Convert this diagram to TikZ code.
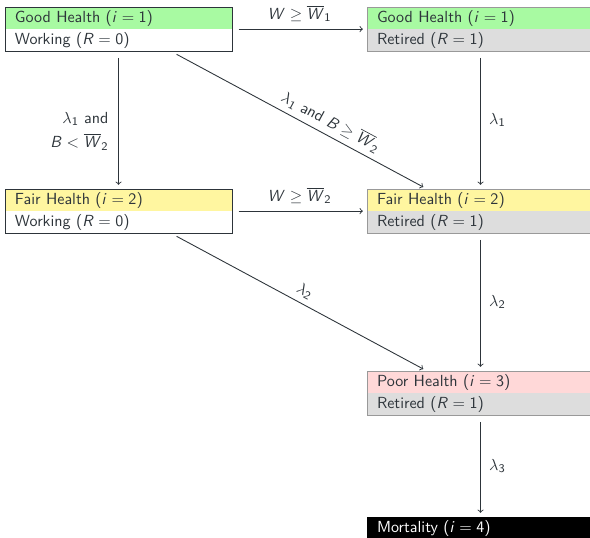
\documentclass[tikz,border=0pt,11pt]{standalone}
\usepackage{amsmath}
\usepackage{amssymb}
\usepackage{tikz}
\usetikzlibrary{positioning,calc}
\renewcommand{\familydefault}{\sfdefault}
% sans math letters and digits, as in slides
\DeclareSymbolFont{sfletters}{OT1}{cmss}{m}{sl}
\SetSymbolFont{operators}{normal}{OT1}{cmss}{m}{n}
\DeclareMathSymbol{i}{\mathalpha}{sfletters}{`i}
\DeclareMathSymbol{R}{\mathalpha}{sfletters}{`R}
\DeclareMathSymbol{W}{\mathalpha}{sfletters}{`W}
\DeclareMathSymbol{B}{\mathalpha}{sfletters}{`B}
\definecolor{txtc}{RGB}{45,52,58}
\definecolor{goodc}{RGB}{168,250,162}
\definecolor{fairc}{RGB}{255,246,160}
\definecolor{poorc}{RGB}{255,216,216}
\definecolor{retc}{RGB}{221,221,221}
\tikzset{
  row/.style={anchor=north west, text width=4.97cm, inner xsep=0.24cm, inner ysep=0pt,
    minimum height=0.53cm, outer sep=0pt, align=left},
  boxline/.style={draw=txtc, line width=0.5pt},
  rboxline/.style={draw=gray!80, line width=0.5pt},
  arr/.style={->, draw=txtc, line width=0.6pt, shorten <=0.16cm, shorten >=0.1cm},
}

\begin{document}
\begin{tikzpicture}[x=0.024cm,y=-0.024cm,font=\sffamily,color=txtc]
\clip (0,0) rectangle (590,538);
% left column (working)
\node[row, fill=goodc] (gw1) at (5,7) {Good Health ($i=1$)};
\node[row, fill=white, below=0pt of gw1] (gw2) {Working ($R=0$)};
\draw[boxline] (gw1.north west) rectangle (gw2.south east);
\node[row, fill=fairc] (fw1) at (5,189) {Fair Health ($i=2$)};
\node[row, fill=white, below=0pt of fw1] (fw2) {Working ($R=0$)};
\draw[boxline] (fw1.north west) rectangle (fw2.south east);
% right column (retired)
\node[row, fill=goodc] (gr1) at (367,7) {Good Health ($i=1$)};
\node[row, fill=retc, below=0pt of gr1] (gr2) {Retired ($R=1$)};
\draw[rboxline] (gr1.north west) rectangle (gr2.south east);
\node[row, fill=fairc] (fr1) at (367,189) {Fair Health ($i=2$)};
\node[row, fill=retc, below=0pt of fr1] (fr2) {Retired ($R=1$)};
\draw[rboxline] (fr1.north west) rectangle (fr2.south east);
\node[row, fill=poorc] (pr1) at (367,371) {Poor Health ($i=3$)};
\node[row, fill=retc, below=0pt of pr1] (pr2) {Retired ($R=1$)};
\draw[rboxline] (pr1.north west) rectangle (pr2.south east);
\node[row, fill=black, text=white] (mort) at (367,517) {Mortality ($i=4$)};
% transitions
\draw[arr] (gw2.north east) -- (gr2.north west) node[midway,above=1pt]{$W \geq \overline{W}_1$};
\draw[arr] (fw2.north east) -- (fr2.north west) node[midway,above=1pt]{$W \geq \overline{W}_2$};
\draw[arr] (gw2.south) -- (fw1.north) node[pos=0.58,left=3pt,align=right]{$\lambda_1$ and\\[3pt] $B < \overline{W}_2$};
\draw[arr] ($(gw2.south west)!0.73!(gw2.south east)$) -- ($(fr1.north west)!0.264!(fr1.north east)$)
  node[pos=0.6,above,sloped]{$\lambda_1$ and $B \geq \overline{W}_2$};
\draw[arr] ($(fw2.south west)!0.73!(fw2.south east)$) -- ($(pr1.north west)!0.264!(pr1.north east)$)
  node[midway,above,sloped]{$\lambda_2$};
\draw[arr] (gr2.south) -- (fr1.north) node[midway,right=2pt]{$\lambda_1$};
\draw[arr] (fr2.south) -- (pr1.north) node[midway,right=2pt]{$\lambda_2$};
\draw[arr] (pr2.south) -- (mort.north) node[midway,right=2pt]{$\lambda_3$};
\end{tikzpicture}
\end{document}
